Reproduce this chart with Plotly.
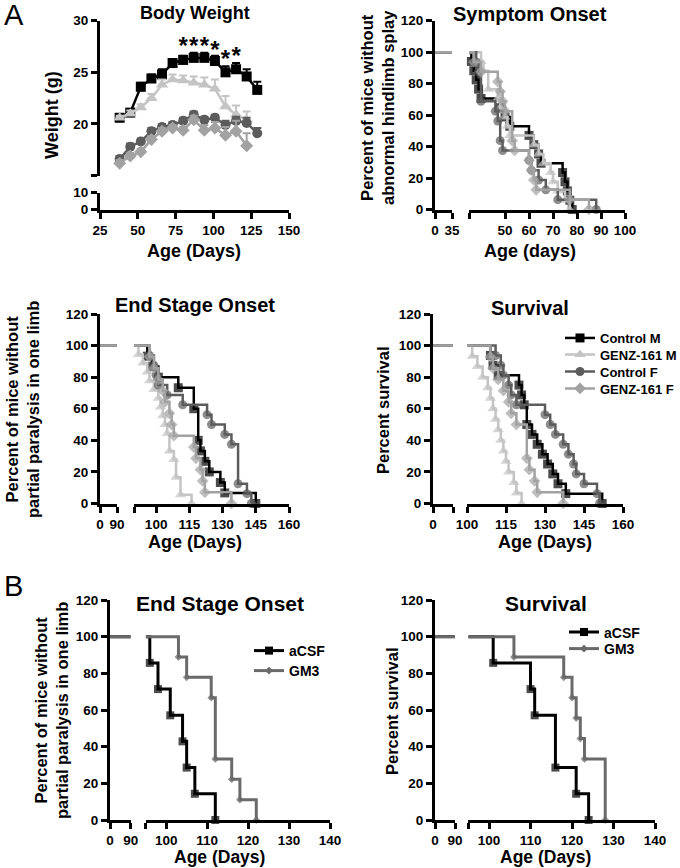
import plotly.graph_objects as go

W, H = 680, 868

# ---------------- data ----------------
groups = ["Control M", "GENZ-161 M", "Control F", "GENZ-161 F"]

# Body weight (g)
bw_age = [38, 45, 52, 59, 66, 73, 80, 87, 94, 101, 108, 115, 122, 129]
bw_ctrl_m = [20.6, 21.1, 23.6, 24.4, 24.8, 25.9, 26.2, 26.4, 26.4, 26.1, 25.0, 25.3, 24.6, 23.3]
bw_genz_m = [20.6, 21.0, 21.6, 22.5, 23.8, 24.3, 24.2, 24.0, 23.8, 23.4, 21.7, 20.9, 20.4]
bw_ctrl_f = [16.6, 17.8, 18.3, 19.3, 19.7, 19.9, 20.3, 20.9, 20.4, 20.6, 19.9, 20.3, 20.1, 19.1]
bw_genz_f = [16.2, 16.9, 17.3, 18.5, 19.3, 19.6, 19.4, 20.4, 19.4, 19.6, 18.9, 19.3, 17.9]
bw_ctrl_m_err = [0.2, 0.3, 0.4, 0.4, 0.5, 0.4, 0.4, 0.5, 0.5, 0.5, 0.6, 0.6, 0.7, 0.8]
bw_genz_m_err = [0.2, 0.3, 0.3, 0.4, 0.5, 0.5, 0.5, 0.6, 0.7, 0.9, 1.0, 0.9, 0.8]
bw_ctrl_f_err = [0.3, 0.3, 0.3, 0.3, 0.3, 0.3, 0.3, 0.3, 0.3, 0.3, 0.4, 0.4, 0.5, 0.5]
bw_genz_f_err = [0.3, 0.3, 0.3, 0.3, 0.3, 0.3, 0.3, 0.4, 0.5, 0.6, 0.8, 1.0, 1.2]
star_age = [80, 87, 94, 101, 108, 115]
star_y = [27.4, 27.4, 27.4, 27.0, 26.1, 26.4]

# Symptom onset (% without abnormal hindlimb splay)
so_ctrl_m_day = [36, 37, 38, 39, 40, 48, 50, 52, 60, 62, 64, 65, 74, 75, 76, 77, 78]
so_ctrl_m_pct = [94.1, 88.2, 82.4, 76.5, 70.6, 64.7, 58.8, 52.9, 47.1, 41.2, 35.3, 29.4, 23.5, 17.6, 11.8, 5.9, 0]
so_genz_m_day = [40, 41, 43, 47, 48, 50, 51, 52, 62, 64, 66, 69, 70, 72, 75, 77]
so_genz_m_pct = [94.1, 88.2, 76.5, 70.6, 64.7, 58.8, 52.9, 47.1, 41.2, 35.3, 29.4, 23.5, 17.6, 11.8, 5.9, 0]
so_ctrl_f_day = [38, 39, 40, 46, 47, 48, 49, 60, 61, 64, 67, 72, 88]
so_ctrl_f_pct = [93.75, 87.5, 68.75, 62.5, 56.25, 43.75, 37.5, 31.25, 25, 18.75, 12.5, 6.25, 0]
so_genz_f_day = [37, 40, 47, 48, 49, 50, 53, 54, 60, 61, 62, 63, 77, 85]
so_genz_f_pct = [93.75, 87.5, 81.25, 75, 68.75, 62.5, 43.75, 37.5, 31.25, 25, 18.75, 12.5, 6.25, 0]

# End stage onset, panel A (% without partial paralysis in one limb)
es_ctrl_m_day = [96, 98, 101, 110, 117, 119, 120, 122, 124, 129, 131, 145]
es_ctrl_m_pct = [93.3, 86.7, 80, 73.3, 60, 40, 33.3, 26.7, 20, 13.3, 6.7, 0]
es_genz_m_day = [92, 94, 96, 97, 99, 101, 102, 103, 104, 105, 106, 108, 109, 111, 116]
es_genz_m_pct = [94.4, 88.9, 83.3, 77.8, 72.2, 66.7, 61.1, 55.6, 50, 44.4, 33.3, 27.8, 16.7, 5.6, 0]
es_ctrl_f_day = [97, 99, 100, 101, 105, 112, 123, 125, 131, 134, 137, 141, 143]
es_ctrl_f_pct = [93.75, 87.5, 81.25, 75, 68.75, 62.5, 56.25, 50, 43.75, 37.5, 12.5, 6.25, 0]
es_genz_f_day = [97, 99, 101, 103, 104, 106, 107, 108, 117, 118, 120, 121, 122, 134]
es_genz_f_pct = [92.9, 85.7, 78.6, 71.4, 64.3, 57.1, 50, 42.9, 35.7, 28.6, 21.4, 14.3, 7.1, 0]

# Survival, panel A (%)
sv_ctrl_m_day = [109, 110, 112, 120, 121, 122, 123, 125, 127, 129, 131, 133, 135, 138, 152]
sv_ctrl_m_pct = [93.75, 87.5, 81.25, 75, 68.75, 62.5, 50, 43.75, 37.5, 31.25, 25, 18.75, 12.5, 6.25, 0]
sv_genz_m_day = [102, 104, 106, 108, 109, 110, 111, 112, 113, 114, 115, 116, 118, 119, 121]
sv_genz_m_pct = [93.3, 86.7, 80, 73.3, 66.7, 60, 53.3, 46.7, 40, 33.3, 26.7, 20, 13.3, 6.7, 0]
sv_ctrl_f_day = [111, 113, 114, 116, 117, 119, 130, 132, 134, 137, 139, 141, 142, 145, 150, 151]
sv_ctrl_f_pct = [93.75, 87.5, 81.25, 75, 68.75, 62.5, 56.25, 50, 43.75, 37.5, 31.25, 25, 18.75, 12.5, 6.25, 0]
sv_genz_f_day = [109, 110, 112, 114, 116, 117, 119, 123, 124, 126, 127, 137]
sv_genz_f_pct = [92.9, 85.7, 78.6, 71.4, 64.3, 57.1, 50, 28.6, 21.4, 14.3, 7.1, 0]

# Panel B
b_groups = ["aCSF", "GM3"]
b_es_acsf_day = [96, 98, 101, 104, 105, 107, 112]
b_es_acsf_pct = [85.7, 71.4, 57.1, 42.9, 28.6, 14.3, 0]
b_es_gm3_day = [103, 105, 111, 112, 116, 118, 122]
b_es_gm3_pct = [88.9, 77.8, 66.7, 33.3, 22.2, 11.1, 0]
b_sv_acsf_day = [101, 110, 111, 116, 121, 124]
b_sv_acsf_pct = [85.7, 71.4, 57.1, 28.6, 14.3, 0]
b_sv_gm3_day = [106, 118, 120, 121, 122, 123, 128]
b_sv_gm3_pct = [88.9, 77.8, 66.7, 55.6, 44.4, 33.3, 0]

pct_ticks = [0, 20, 40, 60, 80, 100, 120]

# ---------------- styles ----------------
STY = {
    "Control M": dict(color="#000000", symbol="square", size=9),
    "GENZ-161 M": dict(color="#c4c4c4", symbol="triangle-up", size=10),
    "Control F": dict(color="#5c5c5c", symbol="circle", size=9),
    "GENZ-161 F": dict(color="#a2a2a2", symbol="diamond", size=9),
    "aCSF": dict(color="#000000", symbol="square", size=8),
    "GM3": dict(color="#6a6a6a", symbol="diamond", size=6),
}
FONT = "Liberation Sans, Arial, sans-serif"


def fx(px):
    return px / W


def fy(py):
    return 1 - py / H


def xd(a, b):
    return [fx(a), fx(b)]


def yd(top, bottom):
    return [fy(bottom), fy(top)]


def axis(**kw):
    d = dict(showline=True, linecolor="black", linewidth=3, ticks="outside",
             ticklen=6, tickwidth=3, tickcolor="black", showgrid=False,
             zeroline=False, fixedrange=True,
             tickfont=dict(family=FONT, size=13.5, color="black", weight="bold"))
    d.update(kw)
    return d


fig = go.Figure()


def km(days, pct, start, seg1_end, xa1, xa2, ya, grp, width=2.5):
    s = STY[grp]
    # flat part on the first (broken) segment
    fig.add_trace(go.Scatter(x=[0, seg1_end], y=[100, 100], xaxis=xa1, yaxis=ya,
                             mode="lines", line=dict(color=s["color"], width=width),
                             showlegend=False, hoverinfo="skip"))
    fig.add_trace(go.Scatter(x=[start] + days, y=[100] + pct, xaxis=xa2, yaxis=ya,
                             mode="lines+markers",
                             line=dict(color=s["color"], width=width, shape="hv"),
                             marker=dict(symbol=s["symbol"], color=s["color"],
                                         size=[0] + [s["size"]] * len(days),
                                         line=dict(width=0)),
                             cliponaxis=False, showlegend=False, name=grp))


def legend_proxy(grp, legend, width=2.5):
    s = STY[grp]
    fig.add_trace(go.Scatter(x=[None], y=[None], xaxis="x8", yaxis="y7",
                             mode="lines+markers", name=grp, legend=legend,
                             line=dict(color=s["color"], width=width),
                             marker=dict(symbol=s["symbol"], color=s["color"], size=s["size"],
                                         line=dict(width=0)),
                             showlegend=True))


# ---- Body weight ----
bw = [(bw_ctrl_m, bw_ctrl_m_err, "Control M"), (bw_genz_m, bw_genz_m_err, "GENZ-161 M"),
      (bw_ctrl_f, bw_ctrl_f_err, "Control F"), (bw_genz_f, bw_genz_f_err, "GENZ-161 F")]
for vals, err, grp in bw:
    s = STY[grp]
    n = len(vals)
    fig.add_trace(go.Scatter(x=bw_age[:n], y=vals, xaxis="x", yaxis="y",
                             mode="lines+markers",
                             line=dict(color=s["color"], width=2.5),
                             marker=dict(symbol=s["symbol"], color=s["color"], size=s["size"] + 1,
                                         line=dict(width=0)),
                             error_y=dict(type="data", array=err, arrayminus=[0] * n,
                                          symmetric=False, color=s["color"], thickness=2, width=4),
                             cliponaxis=False, showlegend=False))
fig.add_trace(go.Scatter(x=star_age, y=star_y, xaxis="x", yaxis="y", mode="text",
                         text=["*"] * len(star_age),
                         textfont=dict(family=FONT, size=24, color="black", weight="bold"),
                         cliponaxis=False, showlegend=False))
fig.add_trace(go.Scatter(x=[None], y=[None], xaxis="x", yaxis="y2", showlegend=False))

# ---- Symptom onset ----
for d, p, g in [(so_ctrl_m_day, so_ctrl_m_pct, "Control M"), (so_genz_m_day, so_genz_m_pct, "GENZ-161 M"),
                (so_ctrl_f_day, so_ctrl_f_pct, "Control F"), (so_genz_f_day, so_genz_f_pct, "GENZ-161 F")]:
    km(d, p, 35, 35, "x3", "x4", "y3", g)

# ---- End stage A ----
for d, p, g in [(es_ctrl_m_day, es_ctrl_m_pct, "Control M"), (es_genz_m_day, es_genz_m_pct, "GENZ-161 M"),
                (es_ctrl_f_day, es_ctrl_f_pct, "Control F"), (es_genz_f_day, es_genz_f_pct, "GENZ-161 F")]:
    km(d, p, 90, 90, "x5", "x6", "y5", g)

# ---- Survival A ----
for d, p, g in [(sv_ctrl_m_day, sv_ctrl_m_pct, "Control M"), (sv_genz_m_day, sv_genz_m_pct, "GENZ-161 M"),
                (sv_ctrl_f_day, sv_ctrl_f_pct, "Control F"), (sv_genz_f_day, sv_genz_f_pct, "GENZ-161 F")]:
    km(d, p, 100, 90, "x7", "x8", "y7", g)

# ---- Panel B ----
km(b_es_acsf_day, b_es_acsf_pct, 95, 90, "x9", "x10", "y9", "aCSF", width=3)
km(b_es_gm3_day, b_es_gm3_pct, 95, 90, "x9", "x10", "y9", "GM3", width=3)
km(b_sv_acsf_day, b_sv_acsf_pct, 95, 90, "x11", "x12", "y11", "aCSF", width=3)
km(b_sv_gm3_day, b_sv_gm3_pct, 95, 90, "x11", "x12", "y11", "GM3", width=3)

# one legend box per entry so that row spacing matches the original
LEG_A = [("Control M", "legend", 338), ("GENZ-161 M", "legend4", 354.5),
         ("Control F", "legend5", 371.5), ("GENZ-161 F", "legend6", 388.5)]
LEG_B1 = [("aCSF", "legend2", 651), ("GM3", "legend7", 671)]
LEG_B2 = [("aCSF", "legend3", 632.5), ("GM3", "legend8", 649)]
for g, lg, _ in LEG_A:
    legend_proxy(g, lg)
for g, lg, _ in LEG_B1 + LEG_B2:
    legend_proxy(g, lg, width=3)


def legbox(x, y, size):
    return dict(x=fx(x), y=fy(y), xanchor="left", yanchor="middle",
                font=dict(family=FONT, size=size, color="black", weight="bold"),
                bgcolor="rgba(0,0,0,0)", borderwidth=0, tracegroupgap=0, itemwidth=30)


# ---------------- layout ----------------
lay = dict(
    width=W, height=H, margin=dict(l=0, r=0, t=0, b=0, autoexpand=False),
    paper_bgcolor="white", plot_bgcolor="rgba(0,0,0,0)",
    font=dict(family=FONT, color="black"),
    # body weight
    xaxis=axis(domain=xd(100, 289), range=[25, 150], anchor="y2",
               tickvals=[25, 50, 75, 100, 125, 150]),
    yaxis=axis(domain=yd(20.7, 175.6), range=[15, 30], anchor="x",
               tickvals=[15, 20, 25, 30], ticktext=["", "20", "25", "30"]),
    yaxis2=axis(domain=yd(192.7, 209.5), range=[0, 10], anchor="x", tickvals=[0, 10]),
    # symptom onset
    xaxis3=axis(domain=xd(435, 452), range=[0, 35], anchor="y3", tickvals=[0, 35]),
    xaxis4=axis(domain=xd(469, 625), range=[35, 100], anchor="y3",
                tickvals=[35, 50, 60, 70, 80, 90, 100],
                ticktext=["", "50", "60", "70", "80", "90", "100"]),
    yaxis3=axis(domain=yd(20.7, 209.5), range=[0, 120], anchor="x3", tickvals=pct_ticks),
    # end stage A
    xaxis5=axis(domain=xd(100, 117), range=[0, 90], anchor="y5", tickvals=[0, 90]),
    xaxis6=axis(domain=xd(134, 289), range=[90, 160], anchor="y5",
                tickvals=[90, 100, 115, 130, 145, 160],
                ticktext=["", "100", "115", "130", "145", "160"]),
    yaxis5=axis(domain=yd(314, 503.5), range=[0, 120], anchor="x5", tickvals=pct_ticks),
    # survival A
    xaxis7=axis(domain=xd(433, 453), range=[0, 90], anchor="y7", tickvals=[0, 90],
                ticktext=["0", ""]),
    xaxis8=axis(domain=xd(467, 623), range=[100, 160], anchor="y7",
                tickvals=[100, 115, 130, 145, 160]),
    yaxis7=axis(domain=yd(314, 503.5), range=[0, 120], anchor="x7", tickvals=pct_ticks),
    # end stage B
    xaxis9=axis(domain=xd(110, 130.7), range=[0, 90], anchor="y9", tickvals=[0, 90]),
    xaxis10=axis(domain=xd(145.7, 330), range=[95, 140], anchor="y9",
                 tickvals=[95, 100, 110, 120, 130, 140],
                 ticktext=["", "100", "110", "120", "130", "140"]),
    yaxis9=axis(domain=yd(600, 820), range=[0, 120], anchor="x9", tickvals=pct_ticks),
    # survival B
    xaxis11=axis(domain=xd(435, 455), range=[0, 90], anchor="y11", tickvals=[0, 90]),
    xaxis12=axis(domain=xd(468.3, 655), range=[95, 140], anchor="y11",
                 tickvals=[95, 100, 110, 120, 130, 140],
                 ticktext=["", "100", "110", "120", "130", "140"]),
    yaxis11=axis(domain=yd(600, 820), range=[0, 120], anchor="x11", tickvals=pct_ticks),
)
for _, lg, yy in LEG_A:
    lay[lg] = legbox(560, yy, 13)
for _, lg, yy in LEG_B1:
    lay[lg] = legbox(249, yy, 14)
for _, lg, yy in LEG_B2:
    lay[lg] = legbox(564, yy, 14)
fig.update_layout(**lay)


def txt(text, x, y, size, angle=0, bold=True, xanchor="center"):
    fig.add_annotation(text=text, x=fx(x), y=fy(y), xref="paper", yref="paper",
                       showarrow=False, textangle=angle, xanchor=xanchor, yanchor="middle",
                       font=dict(family=FONT, size=size, color="black",
                                 weight="bold" if bold else "normal"))


# panel letters
txt("A", 2, 15, 29, bold=False, xanchor="left")
txt("B", 2, 586, 29, bold=False, xanchor="left")
# titles
txt("Body Weight", 195, 13, 18)
txt("Symptom Onset", 530, 14, 20)
txt("End Stage Onset", 195, 305, 20)
txt("Survival", 530, 308, 20)
txt("End Stage Onset", 220, 603, 21)
txt("Survival", 546, 603, 21)
# axis titles
txt("Weight (g)", 52, 115, 18, angle=-90)
txt("Age (Days)", 194, 251, 18)
txt("Percent of mice without<br>abnormal hindlimb splay", 377, 108, 16.5, angle=-90)
txt("Age (days)", 530, 251, 18)
txt("Percent of mice without<br>partial paralysis in one limb", 22, 410, 16.5, angle=-90)
txt("Age (Days)", 195, 542, 18)
txt("Percent survival", 383, 410, 16.5, angle=-90)
txt("Age (Days)", 545, 542, 18)
txt("Percent of mice without<br>partial paralysis in one limb", 51, 711, 16.5, angle=-90)
txt("Age (Days)", 219, 857, 17.5)
txt("Percent survival", 392, 711, 16.5, angle=-90)
txt("Age (Days)", 545, 857, 17.5)

fig.write_html("out.html", config={"displayModeBar": False},
               post_script="document.body.style.margin='0px';")
